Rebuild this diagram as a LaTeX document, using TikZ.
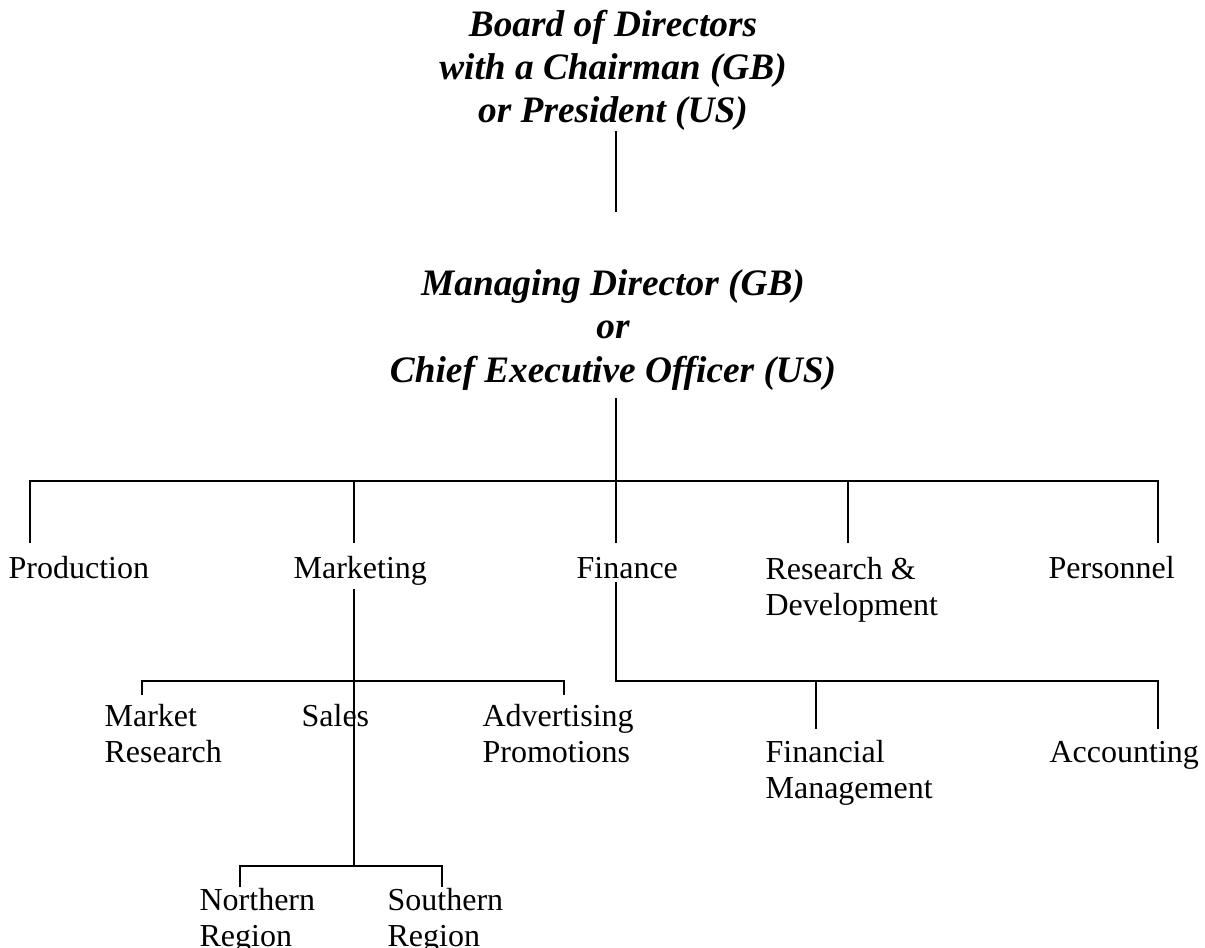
\documentclass[tikz,border=0pt]{standalone}
\usepackage{fontspec}
\setmainfont{Liberation Serif}

\begin{document}
\begin{tikzpicture}[x=0.75pt, y=-0.75pt,
  head/.style={font=\fontsize{28}{32.4}\selectfont\bfseries\itshape, align=center, anchor=base, inner sep=0pt},
  dept/.style={font=\fontsize{24}{27}\selectfont, align=left, anchor=base west, inner sep=2.5pt},
  link/.style={line width=1.4pt}
]
\useasboundingbox (0,0) rectangle (1205,948);

% board and managing director (base = last line)
\node[head] (board) at (613,123) {Board of Directors\\with a Chairman (GB)\\or President (US)};
\node[head] (md) at (613,382) {Managing Director (GB)\\or\\Chief Executive Officer (US)};
\coordinate (bus) at (616,481);
\coordinate (bEnd) at (616,212);
\draw[link] (board.south -| bus) -- (bEnd);
\draw[link, shorten <=6pt] (md.south -| bus) -- (bus);

% departments
\node[dept] (prod) at (5,578) {Production};
\node[dept] (mkt) at (290,578) {Marketing};
\node[dept] (fin) at (573,578) {Finance};
\node[dept] (rnd) at (762,615) {Research \&\\Development};
\node[dept] (pers) at (1045,578) {Personnel};
\foreach \n/\x in {pProd/30, pMkt/354, pFin/616, pRnd/848, pPers/1158}
  \coordinate (\n) at (\x,543);
\draw[link] (pProd) |- (bus) -| (pPers);
\foreach \n in {pMkt,pFin,pRnd}
  \draw[link] (\n) -- (\n |- bus);

% marketing
\coordinate (mSub) at (354,681);
\coordinate (sSub) at (354,866);
\node[dept] (mres) at (101,762) {Market\\Research};
\node[dept] (sales) at (298,726) {Sales};
\node[dept] (adv) at (479,762) {Advertising\\Promotions};
\coordinate (pMres) at (142,695);
\coordinate (pAdv) at (564,695);
\draw[link] (mkt.south -| mSub) -- (sSub);
\draw[link] (pMres) |- (mSub) -| (pAdv);

% sales regions
\node[dept] (nreg) at (196,946) {Northern\\Region};
\node[dept] (sreg) at (384,946) {Southern\\Region};
\coordinate (pNreg) at (240,887);
\coordinate (pSreg) at (442,887);
\draw[link] (pNreg) |- (sSub) -| (pSreg);

% finance
\coordinate (fSub) at (616,681);
\node[dept] (fman) at (762,798) {Financial\\Management};
\node[dept] (acc) at (1046,762) {Accounting};
\coordinate (pFman) at (816,729);
\coordinate (pAcc) at (1158,729);
\draw[link] (fin.south -| fSub) -- (fSub) -| (pAcc);
\draw[link] (pFman) -- (pFman |- fSub);
\end{tikzpicture}
\end{document}
